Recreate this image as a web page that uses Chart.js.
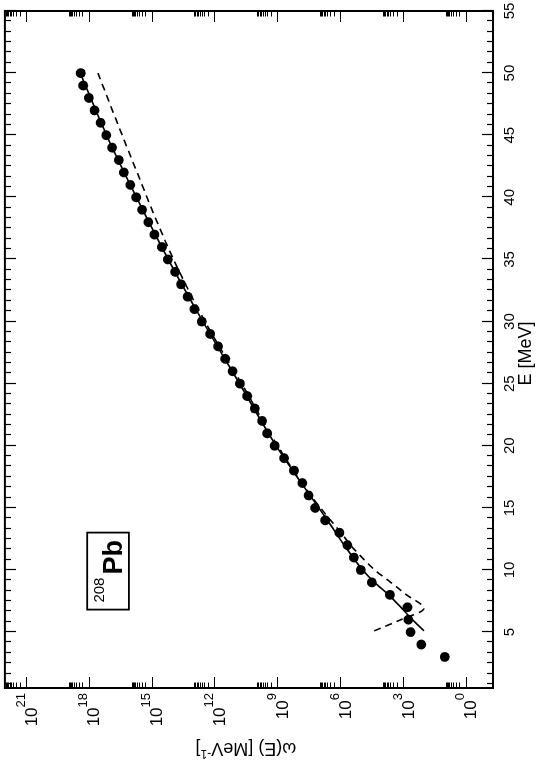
<!DOCTYPE html>
<html>
<head>
<meta charset="utf-8">
<script src="https://cdn.jsdelivr.net/npm/chart.js@4/dist/chart.umd.min.js"></script>
<style>
  html, body { margin: 0; padding: 0; background: #fff; overflow: hidden; }
  /* the figure is drawn upright and then turned a quarter turn to the left */
  #wrap {
    position: absolute; left: 0; top: 0;
    width: 761px; height: 538px;
    transform-origin: 0 0;
    transform: translate(0px, 761px) rotate(-90deg);
  }
</style>
</head>
<body>
<div id="wrap"><canvas id="densityChart" width="761" height="538"></canvas></div>
<script>
// level density of 208Pb, values read as log10(omega)
const E_POINTS = [3, 4, 5, 6, 7, 8, 9, 10, 11, 12, 13, 14, 15, 16, 17, 18, 19, 20,
  21, 22, 23, 24, 25, 26, 27, 28, 29, 30, 31, 32, 33, 34, 35, 36, 37, 38, 39, 40,
  41, 42, 43, 44, 45, 46, 47, 48, 49, 50];
const LOG_OMEGA_POINTS = [1.0, 2.12, 2.63, 2.74, 2.78, 3.62, 4.48, 5.01, 5.34, 5.65,
  6.03, 6.71, 7.19, 7.5, 7.8, 8.2, 8.67, 9.12, 9.48, 9.72, 10.07, 10.43, 10.78,
  11.13, 11.48, 11.82, 12.2, 12.6, 12.95, 13.27, 13.59, 13.87, 14.22, 14.5, 14.86,
  15.15, 15.45, 15.73, 16.01, 16.32, 16.56, 16.88, 17.16, 17.43, 17.72, 17.99,
  18.26, 18.38];

const E_SOLID = [5.1, 6, 7, 8, 9, 10, 12, 14, 17, 20, 25, 30, 35, 40, 45, 50];
const LOG_OMEGA_SOLID = [1.99, 2.55, 3.1, 3.68, 4.35, 4.92, 5.8, 6.6, 7.85, 9.05,
  10.8, 12.55, 14.2, 15.72, 17.15, 18.4];

const E_DASHED = [5.1, 6, 6.9, 8, 9, 10, 11, 12, 13, 14, 16, 20, 25, 30, 35, 39, 41, 45, 50];
const LOG_OMEGA_DASHED = [4.37, 3.1, 2.0, 2.83, 3.58, 4.34, 4.95, 5.5, 5.95, 6.45,
  7.4, 8.98, 10.7, 12.45, 13.95, 14.98, 15.45, 16.4, 17.56];

const E_TICKS = [5, 10, 15, 20, 25, 30, 35, 40, 45, 50, 55];
const E_MINOR_COUNT = 5;
const OMEGA_TICK_EXPONENTS = [0, 3, 6, 9, 12, 15, 18, 21];

const toXY = (xs, ls) => xs.map((e, i) => ({ x: e, y: Math.pow(10, ls[i]) }));

const FONT = '"Liberation Sans", Arial, Helvetica, sans-serif';

const framePlugin = {
  id: 'frame',
  afterDraw(chart) {
    const { ctx, chartArea: a, scales: { x, y } } = chart;
    ctx.save();
    ctx.strokeStyle = '#000';
    ctx.fillStyle = '#000';

    // tick marks, pointing inwards on all four sides
    const tickX = (v, len) => {
      const px = Math.round(x.getPixelForValue(v)) + 0.5;
      ctx.beginPath();
      ctx.moveTo(px, a.bottom); ctx.lineTo(px, a.bottom - len);
      ctx.moveTo(px, a.top); ctx.lineTo(px, a.top + len);
      ctx.stroke();
    };
    const tickY = (v, len) => {
      const py = Math.round(y.getPixelForValue(v)) + 0.5;
      ctx.beginPath();
      ctx.moveTo(a.left, py); ctx.lineTo(a.left + len, py);
      ctx.moveTo(a.right, py); ctx.lineTo(a.right - len, py);
      ctx.stroke();
    };
    ctx.lineWidth = 1.2;
    const step = (E_TICKS[1] - E_TICKS[0]) / (E_MINOR_COUNT + 1);
    E_TICKS.forEach(m => {
      tickX(m, 11);
      for (let k = 1; k <= E_MINOR_COUNT; k++) {
        if (m - k * step > x.min) tickX(m - k * step, 6);
      }
    });
    OMEGA_TICK_EXPONENTS.forEach(e => {
      tickY(Math.pow(10, e), 11);
      for (let k = 2; k <= 9; k++) tickY(k * Math.pow(10, e), 5.5);
    });

    // frame
    ctx.lineWidth = 2;
    ctx.strokeRect(a.left, a.top, a.right - a.left, a.bottom - a.top);

    // E tick labels
    ctx.font = '15px ' + FONT;
    ctx.textAlign = 'center';
    ctx.textBaseline = 'alphabetic';
    E_TICKS.forEach(v => ctx.fillText(String(v), x.getPixelForValue(v), a.bottom + 20.7));

    // omega tick labels 10^n
    ctx.textAlign = 'left';
    OMEGA_TICK_EXPONENTS.forEach(e => {
      const py = y.getPixelForValue(Math.pow(10, e));
      const right = a.left - 5;
      ctx.font = '13px ' + FONT;
      const ew = ctx.measureText(String(e)).width;
      ctx.fillText(String(e), right - ew, py - 1.3);
      ctx.font = '17px ' + FONT;
      const mw = ctx.measureText('10').width;
      ctx.fillText('10', right - ew - mw, py + 10.7);
    });

    // axis titles
    ctx.font = '18px ' + FONT;
    ctx.textAlign = 'center';
    ctx.fillText('E [MeV]', (a.left + a.right) / 2 - 4, a.bottom + 38);

    ctx.save();
    ctx.translate(17.5, (a.top + a.bottom) / 2 - 3);
    ctx.rotate(-Math.PI / 2);
    const partA = '\u03c9(E) [MeV', sup = '-1', partB = ']';
    ctx.font = '18px ' + FONT;
    const wa = ctx.measureText(partA).width, wb = ctx.measureText(partB).width;
    ctx.font = '12px ' + FONT;
    const ws = ctx.measureText(sup).width;
    let cx = -(wa + ws + wb) / 2;
    ctx.textAlign = 'left';
    ctx.font = '18px ' + FONT;
    ctx.fillText(partA, cx, 0); cx += wa;
    ctx.font = '12px ' + FONT;
    ctx.fillText(sup, cx, -7); cx += ws;
    ctx.font = '18px ' + FONT;
    ctx.fillText(partB, cx, 0);
    ctx.restore();

    // nucleus label
    const bl = a.left + 78.4, bt = a.top + 82.3;
    ctx.lineWidth = 1.8;
    ctx.strokeRect(bl, bt, 77, 41.7);
    ctx.textAlign = 'left';
    ctx.font = '15px ' + FONT;
    ctx.fillText('208', bl + 7, bt + 16.7);
    ctx.font = 'bold 27px ' + FONT;
    ctx.fillText('Pb', bl + 35, bt + 35);

    ctx.restore();
  }
};

new Chart(document.getElementById('densityChart').getContext('2d'), {
  type: 'scatter',
  data: {
    datasets: [
      {
        label: 'points',
        data: toXY(E_POINTS, LOG_OMEGA_POINTS),
        backgroundColor: '#000',
        borderColor: '#000',
        pointRadius: 4.9,
        pointBorderWidth: 0,
        showLine: false
      },
      {
        label: 'solid',
        type: 'line',
        data: toXY(E_SOLID, LOG_OMEGA_SOLID),
        borderColor: '#000',
        borderWidth: 1.6,
        pointRadius: 0,
        cubicInterpolationMode: 'monotone',
        fill: false
      },
      {
        label: 'dashed',
        type: 'line',
        data: toXY(E_DASHED, LOG_OMEGA_DASHED),
        borderColor: '#000',
        borderWidth: 1.6,
        borderDash: [7, 5],
        pointRadius: 0,
        cubicInterpolationMode: 'monotone',
        fill: false
      }
    ]
  },
  options: {
    responsive: false,
    devicePixelRatio: 1,
    animation: false,
    layout: { padding: { top: 3, right: 11, left: 0, bottom: 0 } },
    plugins: { legend: { display: false }, tooltip: { enabled: false } },
    scales: {
      x: {
        type: 'linear',
        min: 0.5,
        max: 55,
        ticks: { display: false },
        grid: { display: false },
        border: { display: false },
        afterFit: (s) => { s.height = 45; }
      },
      y: {
        type: 'logarithmic',
        min: 0.05,
        max: 1e22,
        ticks: { display: false },
        grid: { display: false },
        border: { display: false },
        afterFit: (s) => { s.width = 73; }
      }
    }
  },
  plugins: [framePlugin]
});
</script>
</body>
</html>
